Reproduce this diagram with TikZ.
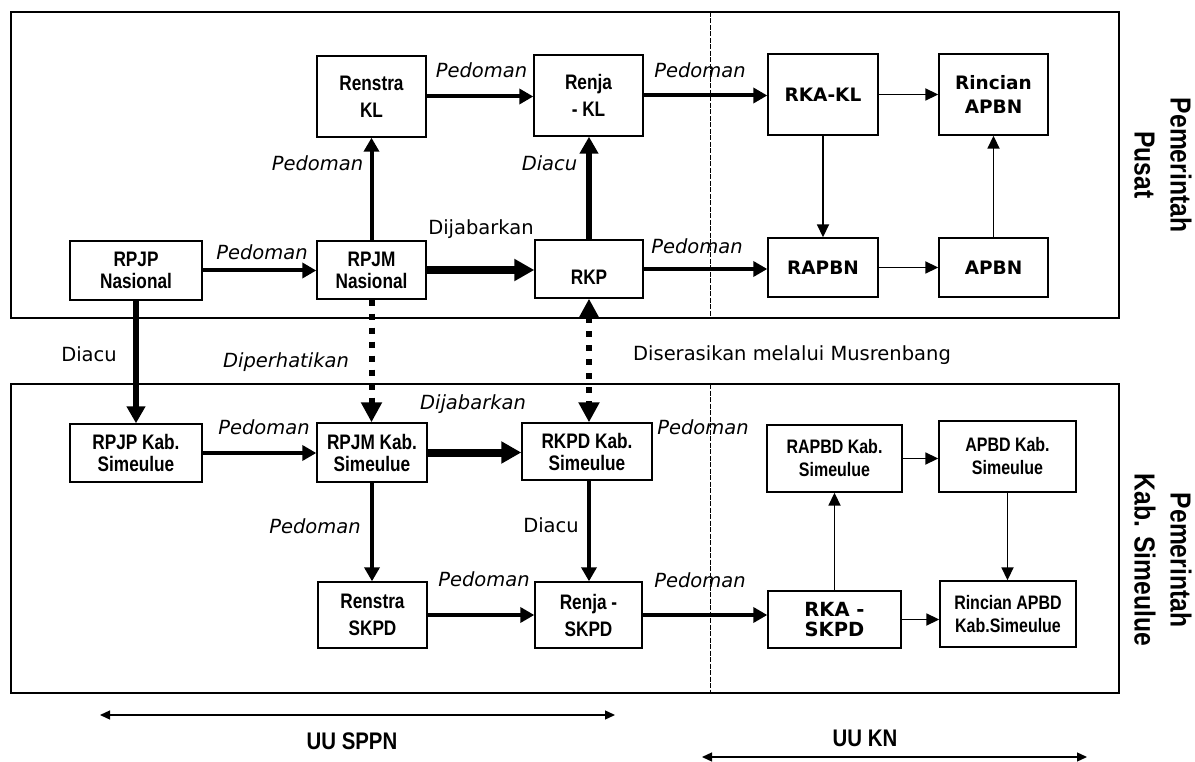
\documentclass[tikz,border=0pt]{standalone}
\usepackage{fontspec}
\setmainfont{DejaVu Sans}
\newfontfamily\condf[FakeStretch=0.82]{Liberation Sans}
\newfontfamily\rotf[FakeStretch=0.85]{Liberation Sans}
\usetikzlibrary{arrows.meta}
\begin{document}
\begin{tikzpicture}[x=1pt,y=-1pt,
  frame/.style={draw,line width=1.8pt,inner sep=0pt},
  box/.style={draw,line width=1.4pt,inner sep=0pt,align=center},
  sz/.style 2 args={minimum width=#1pt,minimum height=#2pt},
  cbox/.style={box,font=\condf\bfseries\fontsize{21}{22}\selectfont},
  cboxw/.style={box,font=\condf\bfseries\fontsize{21}{27}\selectfont},
  cboxs/.style={box,font=\condf\bfseries\fontsize{19.5}{23}\selectfont},
  wbox/.style={box,font=\bfseries\fontsize{18.5}{24}\selectfont},
  lbl/.style={font=\itshape\fontsize{19.5}{22}\selectfont,inner sep=0pt},
  rlbl/.style={font=\fontsize{19.5}{22}\selectfont,inner sep=0pt},
  rotlbl/.style={font=\rotf\bfseries\fontsize{29}{36}\selectfont,align=center,rotate=-90,inner sep=0pt},
  botlbl/.style={font=\rotf\bfseries\fontsize{24}{26}\selectfont,inner sep=0pt},
  arrM/.style={line width=4pt,-{Triangle[length=14pt,width=15pt]}},
  arrD/.style={line width=5.5pt,-{Triangle[length=17pt,width=18pt]}},
  arrX/.style={line width=8pt,-{Triangle[length=20pt,width=21pt]}},
  arrT/.style={line width=1.8pt,-{Triangle[length=13pt,width=12pt]}},
  dotarr/.style={line width=6pt,dash pattern=on 6pt off 8pt,-{Triangle[length=20pt,width=20pt]}},
  dotarr2/.style={line width=6pt,dash pattern=on 6pt off 8pt,{Triangle[length=20pt,width=20pt]}-{Triangle[length=20pt,width=20pt]}},
  rangearr/.style={line width=1.3pt,{Triangle[length=10pt,width=9pt]}-{Triangle[length=10pt,width=9pt]}},
  divline/.style={line width=0.9pt,dash pattern=on 5pt off 1.5pt}
]
\useasboundingbox (0,0) rectangle (1195,762);
\fill[white] (0,0) rectangle (1195,762);

% frames
\node[frame,sz={1108}{306}] (ftop) at (565,165) {};
\node[frame,sz={1108}{309}] (fbot) at (565,538.5) {};
\coordinate (dv1) at (710,12);
\coordinate (dv2) at (710,318);
\coordinate (dv3) at (710,384);
\coordinate (dv4) at (710,693);
\draw[divline] (dv1) -- (dv2);
\draw[divline] (dv3) -- (dv4);

% top boxes
\node[cboxw,sz={109}{81}] (renstrakl) at (371.5,96.5) {Renstra\\KL};
\node[cboxw,sz={109}{81}] (renjakl) at (588.5,95.5) {Renja\\- KL};
\node[wbox,sz={110}{81}] (rkakl) at (823,94.5) {RKA-KL};
\node[wbox,sz={109}{81}] (rincianapbn) at (993.5,94.5) {Rincian\\APBN};
\node[cbox,sz={132}{59}] (rpjpnas) at (136,270.5) {RPJP\\Nasional};
\node[cbox,sz={109}{58}] (rpjmnas) at (371.5,270) {RPJM\\Nasional};
\node[cbox,sz={108}{58}] (rkp) at (589,269) {\raisebox{-8pt}[\height][\depth]{RKP}};
\node[wbox,sz={110}{59}] (rapbn) at (823,267.5) {RAPBN};
\node[wbox,sz={109}{59}] (apbn) at (993.5,267.5) {APBN};

% bottom boxes
\node[cbox,sz={132}{58}] (rpjpkab) at (136,453) {RPJP Kab.\\Simeulue};
\node[cbox,sz={110}{59}] (rpjmkab) at (372,452.5) {RPJM Kab.\\Simeulue};
\node[cbox,sz={130}{57}] (rkpdkab) at (587,451.5) {RKPD Kab.\\Simeulue};
\node[cboxw,sz={109}{66}] (renstraskpd) at (372.5,615) {Renstra\\SKPD};
\node[cboxw,sz={107}{66}] (renjaskpd) at (588.5,615) {Renja -\\SKPD};
\node[box,font=\bfseries\fontsize{19.5}{20}\selectfont,sz={133}{57}] (rkaskpd) at (834.5,619.5) {RKA -\\SKPD};
\node[cboxs,sz={135}{67}] (rapbd) at (834.5,458.5) {RAPBD Kab.\\Simeulue};
\node[cboxs,sz={137}{71}] (apbd) at (1007.5,456.5) {APBD Kab.\\Simeulue};
\node[cboxs,sz={136}{66}] (rincianapbd) at (1008,614) {Rincian APBD\\Kab.Simeulue};

% top connectors
\draw[arrM] (rpjpnas.east) -- (rpjpnas.east -| rpjmnas.west);
\draw[arrM] (rpjmnas.north) -- (rpjmnas.north |- renstrakl.south);
\draw[arrM] (renstrakl.east) -- (renstrakl.east -| renjakl.west);
\draw[arrD] (rkp.north) -- (rkp.north |- renjakl.south);
\draw[arrM] (renjakl.east) -- (renjakl.east -| rkakl.west);
\draw[arrT] (rkakl.east) -- (rkakl.east -| rincianapbn.west);
\draw[arrT] (rkakl.south) -- (rkakl.south |- rapbn.north);
\draw[arrT] (rapbn.east) -- (rapbn.east -| apbn.west);
\draw[arrT] (apbn.north) -- (apbn.north |- rincianapbn.south);
\draw[arrX] (rpjmnas.east) -- (rpjmnas.east -| rkp.west);
\draw[arrM] (rkp.east) -- (rkp.east -| rapbn.west);

% between levels
\draw[arrD] (rpjpnas.south) -- (rpjpnas.south |- rpjpkab.north);
\draw[dotarr] (rpjmnas.south) -- (rpjmnas.south |- rpjmkab.north);
\draw[dotarr2] (rkp.south) -- (rkp.south |- rkpdkab.north);

% bottom connectors
\draw[arrM] (rpjpkab.east) -- (rpjpkab.east -| rpjmkab.west);
\draw[arrX] (rpjmkab.east) -- (rpjmkab.east -| rkpdkab.west);
\draw[arrM] (rpjmkab.south) -- (rpjmkab.south |- renstraskpd.north);
\draw[arrM] ([xshift=2pt]rkpdkab.south) -- ([xshift=2pt]rkpdkab.south |- renjaskpd.north);
\draw[arrM] (renstraskpd.east) -- (renstraskpd.east -| renjaskpd.west);
\draw[arrM] (renjaskpd.east) -- (renjaskpd.east -| rkaskpd.west);
\draw[arrT] (rkaskpd.north) -- (rkaskpd.north |- rapbd.south);
\draw[arrT] (rapbd.east) -- (rapbd.east -| apbd.west);
\draw[arrT] (apbd.south) -- (apbd.south |- rincianapbd.north);
\draw[arrT] (rkaskpd.east) -- (rkaskpd.east -| rincianapbd.west);

% labels
\node[lbl] (l1) at (481.5,70) {Pedoman};
\node[lbl] (l2) at (700,70) {Pedoman};
\node[lbl] (l3) at (317.5,163) {Pedoman};
\node[lbl] (l4) at (549.5,163) {Diacu};
\node[lbl] (l5) at (262,252) {Pedoman};
\node[rlbl] (l6) at (481,229) {Dijabarkan};
\node[lbl] (l7) at (697,246) {Pedoman};
\node[rlbl] (l8) at (89,354) {Diacu};
\node[lbl] (l9) at (286,362) {Diperhatikan};
\node[rlbl] (l10) at (792,355) {Diserasikan melalui Musrenbang};
\node[lbl] (l11) at (473,404) {Dijabarkan};
\node[lbl] (l12) at (264,427) {Pedoman};
\node[lbl] (l13) at (703,427) {Pedoman};
\node[lbl] (l14) at (315,526) {Pedoman};
\node[rlbl] (l15) at (551,525) {Diacu};
\node[lbl] (l16) at (484,579) {Pedoman};
\node[lbl] (l17) at (700,580) {Pedoman};

% side labels
\node[rotlbl] (pusat) at (1163,165) {Pemerintah\\Pusat};
\node[rotlbl] (kab) at (1163,560) {Pemerintah\\Kab. Simeulue};

% legal ranges
\coordinate (s1) at (100,715);
\coordinate (s2) at (615,715);
\coordinate (k1) at (702,757);
\coordinate (k2) at (1087,757);
\draw[rangearr] (s1) -- (s2);
\draw[rangearr] (k1) -- (k2);
\node[botlbl] (uusppn) at (352,741) {UU SPPN};
\node[botlbl] (uukn) at (865,738) {UU KN};
\end{tikzpicture}
\end{document}
